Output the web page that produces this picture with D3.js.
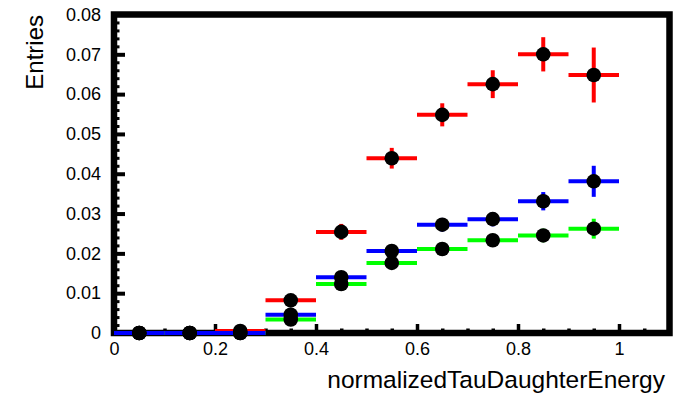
<!DOCTYPE html>
<html>
<head>
<meta charset="utf-8">
<script src="https://cdn.jsdelivr.net/npm/d3@7"></script>
<style>
  html, body { margin: 0; padding: 0; background: #fff; }
  svg { display: block; }
  text { font-family: "Liberation Sans", Arial, sans-serif; fill: #000; }
</style>
</head>
<body>
<svg id="chart" width="677" height="395"></svg>
<script>
// Bin centres (bin width 0.1)
const binCenters = [0.05, 0.15, 0.25, 0.35, 0.45, 0.55, 0.65, 0.75, 0.85, 0.95];
const binHalfWidth = 0.05;

// Series contents and their statistical errors
const redValues   = [0, 0, 0.0005, 0.0082, 0.0254, 0.0439, 0.0548, 0.0625, 0.0700, 0.0648];
const redErrors   = [0, 0, 0.0003, 0.0012, 0.0020, 0.0026, 0.0029, 0.0035, 0.0043, 0.0069];
const greenValues = [0, 0, 0, 0.0034, 0.0123, 0.0176, 0.0211, 0.0233, 0.0245, 0.0262];
const greenErrors = [0, 0, 0, 0.0007, 0.0012, 0.0013, 0.0014, 0.0016, 0.0017, 0.0025];
const blueValues  = [0, 0, 0, 0.0046, 0.0140, 0.0206, 0.0272, 0.0286, 0.0331, 0.0381];
const blueErrors  = [0, 0, 0, 0.0008, 0.0013, 0.0015, 0.0017, 0.0018, 0.0023, 0.0039];

// Axis ticks
const xMajorTicks = [0, 0.2, 0.4, 0.6, 0.8, 1];
const xMinorTicks = d3.range(1, 22).map(i => +(i * 0.05).toFixed(2)).filter(v => !xMajorTicks.includes(v));
const yMajorTicks = [0, 0.01, 0.02, 0.03, 0.04, 0.05, 0.06, 0.07, 0.08];
const yMinorTicks = d3.range(1, 40).map(i => +(i * 0.002).toFixed(3)).filter(v => !yMajorTicks.includes(v));

const xTitle = "normalizedTauDaughterEnergy";
const yTitle = "Entries";

const svg = d3.select("#chart");
const x = d3.scaleLinear().domain([0, 1.1]).range([114, 669.5]);
const y = d3.scaleLinear().domain([0, 0.08]).range([333, 14.5]);

// Frame
svg.append("rect")
  .attr("x", x(0)).attr("y", y(0.08))
  .attr("width", x(1.1) - x(0)).attr("height", y(0) - y(0.08))
  .attr("fill", "none").attr("stroke", "#000").attr("stroke-width", 6.5);

// Y axis: major ticks with labels, minor ticks pointing inward
const yAxis = svg.append("g").attr("transform", `translate(${x(0)},0)`)
  .call(d3.axisLeft(y).tickValues(yMajorTicks).tickSizeInner(-11).tickSizeOuter(0).tickPadding(13)
    .tickFormat(d => d === 0 ? "0" : d3.format(".2f")(d)));
yAxis.select(".domain").remove();
yAxis.selectAll(".tick line").attr("stroke", "#000").attr("stroke-width", 4);
yAxis.selectAll(".tick text").attr("font-size", 18).attr("font-family", "Liberation Sans, Arial, sans-serif");

const yMinor = svg.append("g").attr("transform", `translate(${x(0)},0)`)
  .call(d3.axisLeft(y).tickValues(yMinorTicks).tickSizeInner(-5.5).tickSizeOuter(0).tickFormat(""));
yMinor.select(".domain").remove();
yMinor.selectAll(".tick line").attr("stroke", "#000").attr("stroke-width", 3);

// X axis
const xAxis = svg.append("g").attr("transform", `translate(0,${y(0)})`)
  .call(d3.axisBottom(x).tickValues(xMajorTicks).tickSizeInner(-9).tickSizeOuter(0).tickPadding(9.5)
    .tickFormat(d => d === 0 ? "0" : d === 1 ? "1" : d3.format(".1f")(d)));
xAxis.select(".domain").remove();
xAxis.selectAll(".tick line").attr("stroke", "#000").attr("stroke-width", 3.5);
xAxis.selectAll(".tick text").attr("font-size", 18).attr("font-family", "Liberation Sans, Arial, sans-serif");

const xMinor = svg.append("g").attr("transform", `translate(0,${y(0)})`)
  .call(d3.axisBottom(x).tickValues(xMinorTicks).tickSizeInner(-4.5).tickSizeOuter(0).tickFormat(""));
xMinor.select(".domain").remove();
xMinor.selectAll(".tick line").attr("stroke", "#000").attr("stroke-width", 3.5);

// Titles
svg.append("text")
  .attr("x", 665).attr("y", 388)
  .attr("text-anchor", "end").attr("font-size", 24.5)
  .text(xTitle);
svg.append("text")
  .attr("transform", "translate(43,15) rotate(-90)")
  .attr("text-anchor", "end").attr("font-size", 24)
  .text(yTitle);

// Error bars: red, green, blue; markers drawn on top of all bars
const series = [
  { color: "#ff0000", values: redValues, errors: redErrors },
  { color: "#00ff00", values: greenValues, errors: greenErrors },
  { color: "#0000ff", values: blueValues, errors: blueErrors }
];

const bars = svg.append("g");
series.forEach(s => {
  const g = bars.append("g").attr("stroke", s.color).attr("stroke-width", 4);
  const pts = binCenters.map((c, i) => ({ c, v: s.values[i], e: s.errors[i] }));
  g.selectAll("line.h").data(pts).join("line").attr("class", "h")
    .attr("x1", d => x(d.c - binHalfWidth)).attr("x2", d => x(d.c + binHalfWidth))
    .attr("y1", d => y(d.v)).attr("y2", d => y(d.v));
  g.selectAll("line.v").data(pts.filter(d => d.e > 0)).join("line").attr("class", "v")
    .attr("x1", d => x(d.c)).attr("x2", d => x(d.c))
    .attr("y1", d => y(d.v - d.e)).attr("y2", d => y(d.v + d.e));
});

const markers = svg.append("g").attr("fill", "#000");
series.forEach(s => {
  markers.selectAll(null)
    .data(binCenters.map((c, i) => ({ c, v: s.values[i] })))
    .join("circle")
    .attr("cx", d => x(d.c)).attr("cy", d => y(d.v)).attr("r", 7.3);
});
</script>
</body>
</html>
